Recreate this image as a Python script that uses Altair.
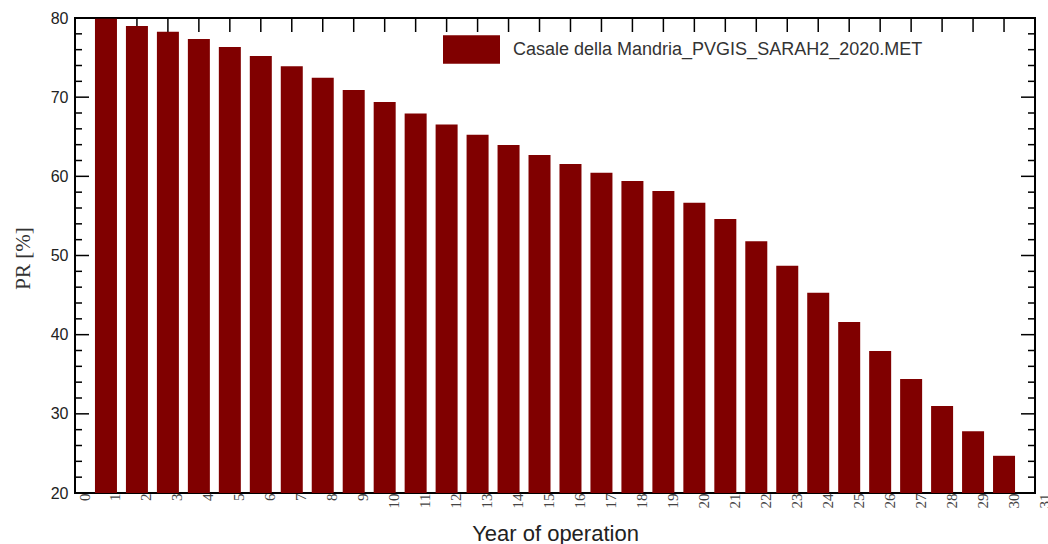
import altair as alt
import pandas as pd

years = list(range(1, 31))
pr_values = [79.9, 79.0, 78.25, 77.35, 76.35, 75.2, 73.9, 72.45, 70.9, 69.4,
             67.95, 66.55, 65.25, 63.95, 62.7, 61.55, 60.45, 59.4, 58.15, 56.65,
             54.6, 51.8, 48.7, 45.3, 41.6, 37.95, 34.4, 31.0, 27.8, 24.7]
series_name = "Casale della Mandria_PVGIS_SARAH2_2020.MET"

x_tick_labels = list(range(0, 32))
y_major_ticks = [20, 30, 40, 50, 60, 70, 80]
y_minor_ticks = [v for v in range(22, 80, 2) if v % 10 != 0]
top_ticks = list(range(1, 31))

W, H = 960, 475

bars_df = pd.DataFrame({"year": years, "pr": pr_values, "series": [series_name] * len(years)})
major_df = pd.DataFrame({"pr": y_major_ticks})
minor_df = pd.DataFrame({"pr": y_minor_ticks})
top_df = pd.DataFrame({"year": top_ticks})

x_scale = alt.Scale(domain=[0, 31], nice=False, zero=False, padding=0)
y_scale = alt.Scale(domain=[20, 80], nice=False, zero=False, padding=0)

x_axis = alt.Axis(values=x_tick_labels, ticks=False, domain=False, grid=False,
                  labelAngle=270, labelFont="Liberation Serif", labelFontSize=15,
                  labelColor="#444", labelPadding=0, labelOffset=9,
                  labelFlush=False, labelOverlap=False, labelBound=False,
                  title="Year of operation", titleFont="Liberation Sans",
                  titleFontSize=22, titleFontWeight="normal", titleColor="#222",
                  titleX=480, titleY=47, titleAlign="center",
                  titleBaseline="alphabetic")
y_axis = alt.Axis(values=y_major_ticks, ticks=False, domain=False, grid=False,
                  labelFont="Liberation Sans", labelFontSize=16, labelColor="#222",
                  labelPadding=7, labelFlush=False, labelOverlap=False,
                  title="PR [%]", titleFont="Liberation Serif", titleFontSize=21,
                  titleFontWeight="normal", titleColor="#333",
                  titleX=-52, titleY=240, titleAngle=270, titleAlign="center",
                  titleBaseline="middle")

tick_color = "black"
left_major = alt.Chart(major_df).mark_rule(color=tick_color, strokeWidth=1.5).encode(
    y=alt.Y("pr:Q", scale=y_scale, axis=y_axis), x=alt.value(0), x2=alt.value(14))
left_minor = alt.Chart(minor_df).mark_rule(color=tick_color, strokeWidth=1.5).encode(
    y=alt.Y("pr:Q", scale=y_scale, axis=y_axis), x=alt.value(0), x2=alt.value(7))
right_major = alt.Chart(major_df).mark_rule(color=tick_color, strokeWidth=1.5).encode(
    y=alt.Y("pr:Q", scale=y_scale, axis=y_axis), x=alt.value(W - 14), x2=alt.value(W))
right_minor = alt.Chart(minor_df).mark_rule(color=tick_color, strokeWidth=1.5).encode(
    y=alt.Y("pr:Q", scale=y_scale, axis=y_axis), x=alt.value(W - 7), x2=alt.value(W))
top = alt.Chart(top_df).mark_rule(color=tick_color, strokeWidth=1.5).encode(
    x=alt.X("year:Q", scale=x_scale, axis=x_axis), y=alt.value(0), y2=alt.value(14))

bars = alt.Chart(bars_df).mark_bar(size=22).encode(
    x=alt.X("year:Q", scale=x_scale, axis=x_axis),
    y=alt.Y("pr:Q", scale=y_scale, axis=y_axis),
    y2=alt.datum(20),
    color=alt.Color("series:N", scale=alt.Scale(range=["#800000"]),
                    legend=alt.Legend(orient="none", legendX=368, legendY=3, title=None,
                                      padding=0, symbolType="M-1,-0.5H1V0.5H-1Z",
                                      symbolSize=3249, symbolStrokeWidth=0,
                                      symbolOpacity=1, labelFont="Liberation Sans",
                                      labelFontSize=18, labelColor="#333",
                                      labelOffset=13, labelLimit=0)),
)

chart = alt.layer(left_major, left_minor, right_major, right_minor, top, bars).properties(
    width=W, height=H,
    autosize=alt.AutoSizeParams(type="none"),
    padding={"left": 75, "top": 18, "right": 13, "bottom": 51},
).configure(background="white").configure_view(stroke="black", strokeWidth=2)

chart.save("out.html", embed_options={"renderer": "svg", "actions": False})
